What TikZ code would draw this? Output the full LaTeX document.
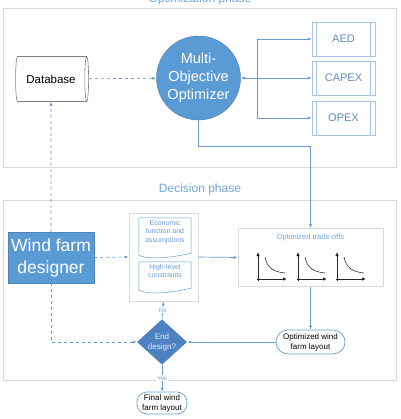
\documentclass[tikz,border=0pt]{standalone}
\usepackage{fontspec}
\setmainfont{Liberation Sans}
\usetikzlibrary{shapes.geometric, arrows.meta}
\definecolor{optblue}{HTML}{5B9BD5}
\definecolor{deepblue}{HTML}{4D82C2}
\definecolor{lineblue}{HTML}{6A9BD2}
\definecolor{titleblue}{HTML}{72A5DD}
\definecolor{paleblue}{HTML}{A8C3E4}
\definecolor{framegray}{HTML}{DADADA}

\begin{document}
\begin{tikzpicture}[x=1pt, y=-1pt, >={Latex[length=4pt,width=3pt]},
    panel/.style={draw=framegray, line width=0.8pt, fill=white, minimum width=393pt},
    phasetitle/.style={text=titleblue, font=\fontsize{12}{14}\selectfont},
    database/.style={cylinder, draw=black!50, line width=0.6pt, aspect=0.45, minimum width=45pt, minimum height=73pt, inner sep=0pt, font=\fontsize{11.5}{13}\selectfont},
    optimizer/.style={circle, fill=optblue, draw=optblue!80!black, minimum size=84pt, inner sep=0pt, align=center, text=white, font=\fontsize{14.5}{18}\selectfont},
    costbox/.style={draw=paleblue, line width=0.7pt, minimum width=63pt, minimum height=34pt, text=lineblue!90!black, font=\fontsize{11}{13}\selectfont},
    designer/.style={fill=optblue, draw=optblue!85!black, minimum width=84pt, minimum height=51pt, align=center, text=white, font=\fontsize{17.5}{22}\selectfont},
    groupbox/.style={draw=framegray, line width=0.8pt, minimum width=69pt, minimum height=88pt},
    docnode/.style={minimum width=52pt, inner sep=0pt, align=center, text=lineblue, font=\fontsize{7}{8.5}\selectfont},
    docline/.style={draw=lineblue, line width=0.5pt},
    tradebox/.style={draw=framegray, line width=0.8pt, minimum width=145pt, minimum height=58pt},
    terminal/.style={draw=lineblue, rounded corners=10pt, line width=0.7pt, inner sep=1pt, align=center, font=\fontsize{8}{10}\selectfont},
    decision/.style={diamond, fill=deepblue, minimum width=50pt, minimum height=32pt, inner sep=0pt, align=center, text=white!85!optblue, font=\fontsize{8}{10}\selectfont},
    flow/.style={draw=lineblue, line width=0.7pt},
    answer/.style={fill=white, inner sep=1pt, text=titleblue, font=\fontsize{6}{7}\selectfont},
    axisline/.style={draw=black!85, line width=1pt, >={Latex[length=4pt,width=3.5pt]}}]
    \useasboundingbox (0,0) rectangle (400,419);

    % optimization phase
    \node[panel, minimum height=159pt] (optpanel) at (200,87.5) {};
    \node[phasetitle] (opttitle) at (200,-1) {Optimization phase};
    \node[database] (db) at (51,79) {Database};
    \node[optimizer] (opt) at (198.5,78) {Multi-\\Objective\\Optimizer};
    \node[costbox] (aed) at (343.5,39) {AED};
    \node[costbox] (capex) at (343.5,78) {CAPEX};
    \node[costbox] (opex) at (343.5,118) {OPEX};
    \foreach \n in {aed, capex, opex} {
        \draw[draw=paleblue, line width=0.7pt] ([xshift=5pt]\n.north west) -- ([xshift=5pt]\n.south west);
        \draw[draw=paleblue, line width=0.7pt] ([xshift=-5pt]\n.north east) -- ([xshift=-5pt]\n.south east);
    }
    \coordinate (split) at (257,78);
    \coordinate (turn) at (198.5,146);

    % decision phase
    \node[panel, minimum height=180pt] (decpanel) at (200,290) {};
    \node[phasetitle] (dectitle) at (200,189) {Decision phase};
    \node[designer] (wfd) at (51,257.5) {Wind farm\\designer};
    \node[groupbox] (inputs) at (163.5,257) {};
    \node[docnode, minimum height=38pt] (econ) at (165,237) {Economic\\function and\\assumptions\\[3pt]};
    \node[docnode, minimum height=29pt] (hlc) at (165,276.5) {High-level\\constraints\\[3pt]};
    \foreach \n in {econ, hlc} {
        \draw[docline] ([yshift=3pt]\n.south east) -- (\n.north east) -- (\n.north west) -- ([yshift=1pt]\n.south west)
            .. controls +(14pt,-6pt) and +(-14pt,-3pt) .. ([yshift=3pt]\n.south east);
    }
    \node[tradebox] (trade) at (310.5,257.5) {};
    \node[text=titleblue, font=\fontsize{7.5}{9}\selectfont] (tradetitle) at (310.5,238) {Optimized trade-offs};
    \foreach \px in {258,298,337} {
        \draw[axisline,->] (\px,281) -- (\px,252);
        \draw[axisline,->] (\px-1,279) -- (\px+29,279);
        \draw[draw=black!80, line width=0.6pt] (\px+7,257) .. controls (\px+9,268) and (\px+16,272) .. (\px+27,273);
    }
    \node[terminal, minimum width=69pt, minimum height=24pt, rounded corners=12pt] (layout) at (310.5,342) {Optimized wind\\farm layout};
    \node[decision] (enddes) at (162,342) {End\\design?};
    \node[terminal, minimum width=50pt, minimum height=22pt] (final) at (162,403) {Final wind\\farm layout};

    % connectors
    \path[flow, dashed, ->] (db) edge (opt);
    \path[flow, <->] (opt) edge (capex);
    \draw[flow, ->] (split) |- (aed);
    \draw[flow, ->] (split) |- (opex);
    \draw[flow, ->] (opt.south) -- (turn) -| (trade.north);
    \draw[flow, dashed, ->] (wfd.north) -- (db.south);
    \draw[flow, dashed, ->] (wfd.south) |- (enddes.west);
    \draw[flow, dashed, ->] (wfd.east) -- (inputs.west);
    \draw[flow, ->] (inputs.east) -- (trade.west);
    \draw[flow, ->] (trade.south) -- (layout.north);
    \draw[flow, ->] (layout.west) -- (enddes.east);
    \draw[flow, ->] (enddes.north) -- node[answer] {No} (inputs.south);
    \draw[flow, ->] (enddes.south) -- node[answer] {Yes} (final.north);
\end{tikzpicture}
\end{document}
